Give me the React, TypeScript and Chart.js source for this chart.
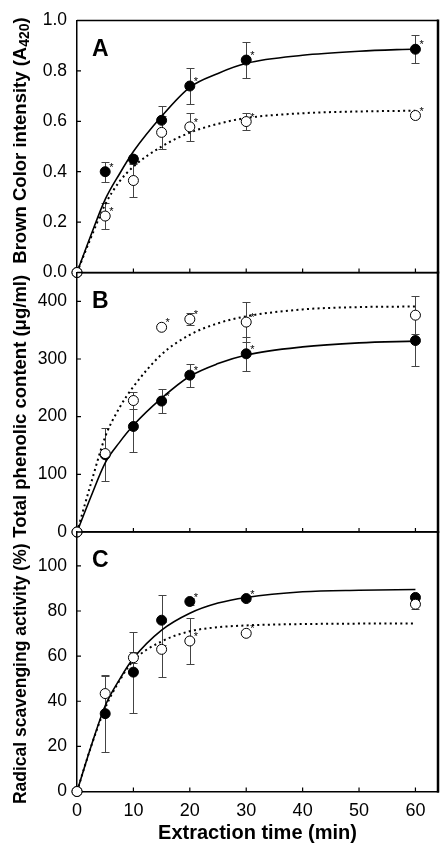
import React, { useEffect, useRef } from "react";
import { Chart, registerables } from "chart.js";

Chart.register(...registerables);

// ---------- shared x data ----------
const times = [0, 5, 10, 15, 20, 30, 60];
const fitTimes = [0, 2.5, 5, 7.5, 10, 15, 20, 25, 30, 40, 50, 60];
const xTickValues = [0, 10, 20, 30, 40, 50, 60];
const xMax = 64;
const xTitle = "Extraction time (min)";

// ---------- Panel A : brown colour ----------
const brownTitle = "Brown Color intensity (A";
const brownTitleSub = "420";
const brownTitleEnd = ")";
const brownTicks = [0, 0.2, 0.4, 0.6, 0.8, 1.0];
const brownMax = 1.0;
const brownFilled = [0, 0.4, 0.45, 0.604, 0.74, 0.843, 0.886];
const brownFilledErr = [0, 0.04, 0.015, 0.055, 0.071, 0.07, 0.056];
const brownFilledStar = [false, true, false, false, true, true, true];
const brownOpen = [0, 0.224, 0.365, 0.556, 0.578, 0.599, 0.623];
const brownOpenErr = [0, 0.052, 0.064, 0.064, 0.056, 0.034, 0.01];
const brownOpenStar = [false, true, false, false, true, true, true];
const brownFitFilled = [0, 0.15, 0.29, 0.39, 0.48, 0.62, 0.735, 0.79, 0.83, 0.862, 0.878, 0.887];
const brownFitOpen = [0, 0.14, 0.27, 0.36, 0.42, 0.5, 0.555, 0.59, 0.613, 0.632, 0.639, 0.642];

// ---------- Panel B : phenolic ----------
const phenolicTitle = "Total phenolic content (\u03BCg/ml)";
const phenolicTicks = [0, 100, 200, 300, 400];
const phenolicMax = 450;
const phenolicFilled = [0, 134, 183, 227, 272, 309, 332];
const phenolicFilledErr = [0, 46, 45, 21, 20, 30, 45];
const phenolicFilledStar = [false, false, false, true, true, true, false];
const phenolicOpen = [0, 136, 228, 355, 369, 364, 376];
const phenolicOpenErr = [0, 3, 14, 0, 10, 35, 33];
const phenolicOpenStar = [false, false, false, true, true, true, false];
const phenolicFitFilled = [0, 62, 120, 155, 185, 232, 270, 292, 307, 321, 328, 331];
const phenolicFitOpen = [0, 85, 165, 215, 252, 308, 342, 362, 374, 386, 390, 391];

// ---------- Panel C : radical scavenging ----------
const radicalTitle = "Radical scavenging activity (%)";
const radicalTicks = [0, 20, 40, 60, 80, 100];
const radicalMax = 115;
const radicalFilled = [0, 34.5, 52.9, 75.9, 84.2, 85.5, 86];
const radicalFilledErr = [0, 17, 18, 11, 1.5, 1, 1];
const radicalFilledStar = [false, false, false, false, true, true, false];
const radicalOpen = [0, 43.4, 59.3, 63, 66.7, 70.1, 83];
const radicalOpenErr = [0, 8, 2.5, 12.2, 10, 1, 2.3];
const radicalOpenStar = [false, false, false, false, true, true, false];
const radicalFitFilled = [0, 20, 38, 49.5, 59, 71.5, 79, 83.5, 86, 88.5, 89.2, 89.5];
const radicalFitOpen = [0, 20, 37, 49, 58, 66.5, 71, 72.8, 73.6, 74.2, 74.4, 74.5];

const FONT = "Arial, 'Liberation Sans', Helvetica, sans-serif";

type Panel = {
  letter: string;
  title: string;
  titleSub?: string;
  titleEnd?: string;
  titleSize: number;
  titleShift: number;
  ticks: number[];
  max: number;
  decimals: number;
  filled: number[];
  filledErr: number[];
  filledStar: boolean[];
  open: number[];
  openErr: number[];
  openStar: boolean[];
  fitFilled: number[];
  fitOpen: number[];
  top: number;
  bottom: number;
  showX: boolean;
};

const panels: Panel[] = [
  {
    letter: "A", title: brownTitle, titleSub: brownTitleSub, titleEnd: brownTitleEnd,
    titleSize: 18.5, titleShift: -6,
    ticks: brownTicks, max: brownMax, decimals: 1,
    filled: brownFilled, filledErr: brownFilledErr, filledStar: brownFilledStar,
    open: brownOpen, openErr: brownOpenErr, openStar: brownOpenStar,
    fitFilled: brownFitFilled, fitOpen: brownFitOpen,
    top: 13, bottom: 272.5, showX: false,
  },
  {
    letter: "B", title: phenolicTitle, titleSize: 18.5, titleShift: 4,
    ticks: phenolicTicks, max: phenolicMax, decimals: 0,
    filled: phenolicFilled, filledErr: phenolicFilledErr, filledStar: phenolicFilledStar,
    open: phenolicOpen, openErr: phenolicOpenErr, openStar: phenolicOpenStar,
    fitFilled: phenolicFitFilled, fitOpen: phenolicFitOpen,
    top: 272.5, bottom: 532, showX: false,
  },
  {
    letter: "C", title: radicalTitle, titleSize: 17.5, titleShift: 12,
    ticks: radicalTicks, max: radicalMax, decimals: 0,
    filled: radicalFilled, filledErr: radicalFilledErr, filledStar: radicalFilledStar,
    open: radicalOpen, openErr: radicalOpenErr, openStar: radicalOpenStar,
    fitFilled: radicalFitFilled, fitOpen: radicalFitOpen,
    top: 532, bottom: 791.5, showX: true,
  },
];

const W = 447;
const H = 850;
const LEFT = 77;
const RIGHT_PAD = 9;
const X_AXIS_H = 58.5;

function makePlugin(p: Panel) {
  return {
    id: "deco" + p.letter,
    beforeDatasetsDraw(chart: any) {
      const { ctx, chartArea, scales } = chart;
      const x = scales.x;
      const y = scales.y;
      ctx.save();
      // frame: top + right
      ctx.strokeStyle = "#000";
      ctx.lineWidth = 1.5;
      ctx.beginPath();
      ctx.moveTo(chartArea.left, chartArea.top);
      ctx.lineTo(chartArea.right, chartArea.top);
      ctx.stroke();
      ctx.lineWidth = 2.5;
      ctx.beginPath();
      ctx.moveTo(chartArea.right, chartArea.top - 1);
      ctx.lineTo(chartArea.right, chartArea.bottom + 1);
      ctx.stroke();
      // inward ticks
      ctx.lineWidth = 1.2;
      ctx.beginPath();
      xTickValues.forEach((v) => {
        const px = x.getPixelForValue(v);
        ctx.moveTo(px, chartArea.bottom);
        ctx.lineTo(px, chartArea.bottom - 4);
      });
      p.ticks.forEach((v) => {
        const py = y.getPixelForValue(v);
        ctx.moveTo(chartArea.left, py);
        ctx.lineTo(chartArea.left + 4, py);
      });
      ctx.stroke();
      // error bars
      ctx.strokeStyle = "#444";
      ctx.lineWidth = 1;
      const drawErr = (vals: number[], errs: number[]) => {
        vals.forEach((v, i) => {
          const e = errs[i];
          if (!e) return;
          const px = Math.round(x.getPixelForValue(times[i])) + 0.5;
          const y1 = Math.round(y.getPixelForValue(v + e)) + 0.5;
          const y2 = Math.round(y.getPixelForValue(v - e)) + 0.5;
          ctx.beginPath();
          ctx.moveTo(px, y1);
          ctx.lineTo(px, y2);
          ctx.moveTo(px - 4, y1);
          ctx.lineTo(px + 4, y1);
          ctx.moveTo(px - 4, y2);
          ctx.lineTo(px + 4, y2);
          ctx.stroke();
        });
      };
      drawErr(p.filled, p.filledErr);
      drawErr(p.open, p.openErr);
      // panel letter
      ctx.fillStyle = "#000";
      ctx.font = `bold 23px ${FONT}`;
      ctx.textAlign = "left";
      ctx.textBaseline = "alphabetic";
      ctx.fillText(p.letter, chartArea.left + 15, chartArea.top + 35);
      // y-axis title (rotated, optional subscript)
      const cy = (chartArea.top + chartArea.bottom) / 2 + p.titleShift;
      const mainFont = `bold ${p.titleSize}px ${FONT}`;
      const subFont = `bold ${Math.round(p.titleSize * 0.75)}px ${FONT}`;
      ctx.font = mainFont;
      const w1 = ctx.measureText(p.title).width;
      const w3 = ctx.measureText(p.titleEnd || "").width;
      ctx.font = subFont;
      const w2 = p.titleSub ? ctx.measureText(p.titleSub).width : 0;
      const total = w1 + w2 + w3;
      ctx.translate(21, cy);
      ctx.rotate(-Math.PI / 2);
      ctx.textBaseline = "middle";
      ctx.textAlign = "left";
      ctx.font = mainFont;
      ctx.fillText(p.title, -total / 2, 0);
      if (p.titleSub) {
        ctx.font = subFont;
        ctx.fillText(p.titleSub, -total / 2 + w1, 4);
        ctx.font = mainFont;
        ctx.fillText(p.titleEnd || "", -total / 2 + w1 + w2, 0);
      }
      ctx.restore();
    },
    afterDatasetsDraw(chart: any) {
      const { ctx, scales } = chart;
      const x = scales.x;
      const y = scales.y;
      ctx.save();
      ctx.fillStyle = "#000";
      ctx.font = `11px ${FONT}`;
      ctx.textAlign = "left";
      ctx.textBaseline = "middle";
      const drawStars = (vals: number[], stars: boolean[]) => {
        vals.forEach((v, i) => {
          if (!stars[i]) return;
          const px = x.getPixelForValue(times[i]);
          const py = y.getPixelForValue(v);
          ctx.fillText("*", px + 4, py - 4);
        });
      };
      drawStars(p.filled, p.filledStar);
      drawStars(p.open, p.openStar);
      ctx.restore();
    },
  };
}

function buildConfig(p: Panel): any {
  const pts = (xs: number[], ys: number[]) => xs.map((xv, i) => ({ x: xv, y: ys[i] }));
  const bottomPad = p.showX ? 0 : H - p.bottom;
  return {
    type: "scatter",
    data: {
      datasets: [
        {
          label: "open",
          data: pts(times, p.open),
          showLine: false,
          pointRadius: 5,
          pointHoverRadius: 5,
          pointBackgroundColor: "#ffffff",
          pointBorderColor: "#000000",
          pointBorderWidth: 1,
          order: 0,
          clip: false,
        },
        {
          label: "filled",
          data: pts(times, p.filled),
          showLine: false,
          pointRadius: 5,
          pointHoverRadius: 5,
          pointBackgroundColor: "#000000",
          pointBorderColor: "#000000",
          pointBorderWidth: 1,
          order: 1,
          clip: false,
        },
        {
          type: "line",
          label: "fit filled",
          data: pts(fitTimes, p.fitFilled),
          showLine: true,
          borderColor: "#000000",
          borderWidth: 1.6,
          pointRadius: 0,
          fill: false,
          cubicInterpolationMode: "monotone",
          order: 2,
        },
        {
          type: "line",
          label: "fit open",
          data: pts(fitTimes, p.fitOpen),
          showLine: true,
          borderColor: "#000000",
          borderWidth: 2,
          borderDash: [2, 3.3],
          pointRadius: 0,
          fill: false,
          cubicInterpolationMode: "monotone",
          order: 3,
        },
      ],
    },
    options: {
      animation: false,
      responsive: false,
      maintainAspectRatio: false,
      events: [],
      layout: { padding: { left: 0, right: RIGHT_PAD, top: p.top, bottom: bottomPad } },
      plugins: { legend: { display: false }, tooltip: { enabled: false }, title: { display: false } },
      scales: {
        x: {
          type: "linear",
          min: 0,
          max: xMax,
          afterBuildTicks: (s: any) => {
            s.ticks = xTickValues.map((v) => ({ value: v }));
          },
          grid: { display: false, drawTicks: false },
          border: { display: true, color: "#000", width: 1.5 },
          ticks: {
            display: p.showX,
            color: "#000",
            font: { family: FONT, size: 18 },
            padding: 9,
            maxRotation: 0,
            autoSkip: false,
          },
          title: {
            display: p.showX,
            text: xTitle,
            color: "#000",
            font: { family: FONT, size: 20, weight: "bold" },
            padding: { top: 0, bottom: 5 },
          },
          afterFit: (s: any) => {
            s.height = p.showX ? X_AXIS_H : 0;
          },
        },
        y: {
          type: "linear",
          min: 0,
          max: p.max,
          afterBuildTicks: (s: any) => {
            s.ticks = p.ticks.map((v) => ({ value: v }));
          },
          grid: { display: false, drawTicks: false },
          border: { display: true, color: "#000", width: 1.5 },
          ticks: {
            color: "#000",
            font: { family: FONT, size: 17.5 },
            padding: 10,
            autoSkip: false,
            callback: (v: any) => Number(v).toFixed(p.decimals),
          },
          title: { display: false, text: p.title },
          afterFit: (s: any) => {
            s.width = LEFT;
          },
        },
      },
    },
    plugins: [makePlugin(p)],
  };
}

export default function App() {
  const refA = useRef<HTMLCanvasElement>(null);
  const refB = useRef<HTMLCanvasElement>(null);
  const refC = useRef<HTMLCanvasElement>(null);

  useEffect(() => {
    const canvases = [refA.current, refB.current, refC.current];
    const charts = canvases.map((c, i) => new Chart(c as HTMLCanvasElement, buildConfig(panels[i])));
    return () => charts.forEach((ch) => ch.destroy());
  }, []);

  const cs: React.CSSProperties = { position: "absolute", left: 0, top: 0, width: W, height: H };
  return (
    <div style={{ position: "fixed", left: 0, top: 0, width: W, height: H, background: "#ffffff" }}>
      <canvas ref={refA} width={W} height={H} style={cs} />
      <canvas ref={refB} width={W} height={H} style={cs} />
      <canvas ref={refC} width={W} height={H} style={cs} />
    </div>
  );
}
